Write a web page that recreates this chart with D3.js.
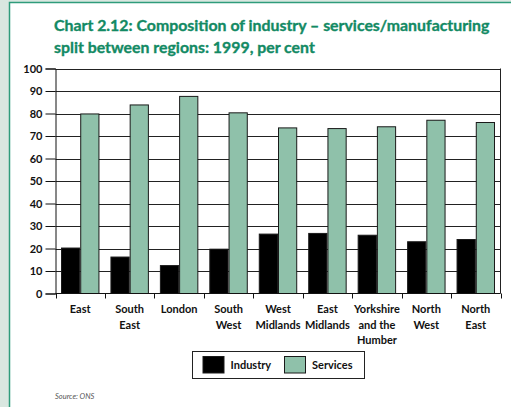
<!DOCTYPE html>
<html>
<head>
<meta charset="utf-8">
<script src="https://cdn.jsdelivr.net/npm/d3@7"></script>
<style>
  html, body { margin: 0; padding: 0; background: #d9e7e0; }
  svg { display: block; }
  text { font-family: Lato, "Open Sans", sans-serif; }
</style>
</head>
<body>
<svg id="chart" width="511" height="407"></svg>
<script>
// Regions and their industry / services shares (per cent, 1999)
const regions = ["East", "South East", "London", "South West", "West Midlands",
                 "East Midlands", "Yorkshire and the Humber", "North West", "North East"];
const regionLabelLines = [["East"], ["South", "East"], ["London"], ["South", "West"],
                          ["West", "Midlands"], ["East", "Midlands"],
                          ["Yorkshire", "and the", "Humber"], ["North", "West"], ["North", "East"]];
const industry = [20.2, 16.2, 12.4, 19.7, 26.4, 26.7, 25.9, 23.0, 24.0];
const services = [79.8, 83.8, 87.6, 80.3, 73.6, 73.3, 74.1, 77.0, 76.0];
const seriesNames = ["Industry", "Services"];
const seriesColors = ["#000000", "#8fc1aa"];
const yTicks = [0, 10, 20, 30, 40, 50, 60, 70, 80, 90, 100];

const titleLines = ["Chart 2.12: Composition of industry \u2013 services/manufacturing",
                    "split between regions: 1999, per cent"];
const sourceNote = "Source: ONS";

const svg = d3.select("#chart");

// page panel with green rule on the left and top
svg.append("rect").attr("x", 9.5).attr("y", 2.5).attr("width", 520).attr("height", 420)
  .attr("fill", "#ffffff").attr("stroke", "#2f9c7b").attr("stroke-width", 1.5);

// title: size chosen so the first line spans its column
const titleG = svg.append("g").attr("fill", "#138a64")
  .attr("stroke", "#138a64").attr("stroke-width", 0.35)
  .attr("font-weight", 700).attr("font-size", 17);
titleLines.forEach((t, i) => {
  titleG.append("text").attr("x", 54).attr("y", 31 + i * 21.5).text(t);
});
const firstLine = titleG.select("text").node();
const fitSize = Math.min(17.5, 17 * 436 / firstLine.getComputedTextLength());
titleG.attr("font-size", fitSize);

const plot = { left: 55.5, right: 500.5, top: 68.5, bottom: 293.5 };

const x = d3.scaleBand().domain(regions).range([plot.left, plot.right]).padding(0);
const xs = d3.scaleBand().domain(seriesNames)
  .range([5.5, x.bandwidth() - 5.5]).padding(0);
const y = d3.scaleLinear().domain([0, 100]).range([plot.bottom, plot.top]);

// horizontal gridlines
svg.append("g").selectAll("line").data(yTicks.filter(d => d > 0)).join("line")
  .attr("x1", plot.left).attr("x2", plot.right)
  .attr("y1", d => Math.round(y(d)) + 0.5).attr("y2", d => Math.round(y(d)) + 0.5)
  .attr("stroke", "#222").attr("stroke-width", 1);

// right frame edge
svg.append("line").attr("x1", plot.right).attr("x2", plot.right)
  .attr("y1", plot.top).attr("y2", plot.bottom)
  .attr("stroke", "#222").attr("stroke-width", 1);

// bars
const rows = regions.map((r, i) => ({ region: r, values: [industry[i], services[i]] }));
const groups = svg.append("g").selectAll("g").data(rows).join("g")
  .attr("transform", d => `translate(${x(d.region)},0)`);
groups.selectAll("rect").data(d => d.values.map((v, j) => ({ key: seriesNames[j], v, j })))
  .join("rect")
  .attr("x", d => xs(d.key) + 0.5)
  .attr("width", xs.bandwidth() - 1)
  .attr("y", d => y(d.v))
  .attr("height", d => y(0) - y(d.v))
  .attr("fill", d => seriesColors[d.j])
  .attr("stroke", "#1a1a1a").attr("stroke-width", 1);

// y axis
const yAxis = svg.append("g").attr("transform", `translate(${plot.left},0)`)
  .call(d3.axisLeft(y).tickValues(yTicks).tickSize(10).tickPadding(3));
yAxis.select(".domain").attr("stroke", "#111");
yAxis.selectAll(".tick line").attr("stroke", "#111");
yAxis.selectAll("text").attr("font-family", "Lato, sans-serif").attr("font-size", 11)
  .attr("font-weight", 700).attr("fill", "#111");

// x axis: baseline with short ticks at category boundaries
svg.append("line").attr("x1", plot.left).attr("x2", plot.right)
  .attr("y1", plot.bottom).attr("y2", plot.bottom)
  .attr("stroke", "#111").attr("stroke-width", 1);
const bounds = regions.map(r => x(r)).concat([plot.right]);
svg.append("g").selectAll("line").data(bounds).join("line")
  .attr("x1", d => Math.round(d) + 0.5).attr("x2", d => Math.round(d) + 0.5)
  .attr("y1", plot.bottom).attr("y2", plot.bottom + 5)
  .attr("stroke", "#111");

// category labels
const lab = svg.append("g").attr("font-size", 11).attr("font-weight", 700)
  .attr("fill", "#111").attr("text-anchor", "middle");
regions.forEach((r, i) => {
  const t = lab.append("text").attr("x", x(r) + x.bandwidth() / 2).attr("y", 313);
  regionLabelLines[i].forEach((ln, k) => {
    t.append("tspan").attr("x", x(r) + x.bandwidth() / 2).attr("dy", k === 0 ? 0 : 15.5).text(ln);
  });
});

// legend
const leg = svg.append("g");
leg.append("rect").attr("x", 192.5).attr("y", 351.5).attr("width", 172).attr("height", 27)
  .attr("fill", "#fff").attr("stroke", "#222").attr("stroke-width", 1);
const legX = [203, 284.5];
const legTextX = [230.5, 312];
seriesNames.forEach((s, j) => {
  leg.append("rect").attr("x", legX[j]).attr("y", 356.5).attr("width", 21).attr("height", 16.5)
    .attr("fill", seriesColors[j]).attr("stroke", "#1a1a1a").attr("stroke-width", 1);
  leg.append("text").attr("x", legTextX[j]).attr("y", 369)
    .attr("font-size", 11).attr("font-weight", 700).attr("fill", "#111").text(s);
});

// source note
svg.append("text").attr("x", 55).attr("y", 399).attr("font-size", 7.5)
  .attr("font-style", "italic").attr("fill", "#555").text(sourceNote);
</script>
</body>
</html>
